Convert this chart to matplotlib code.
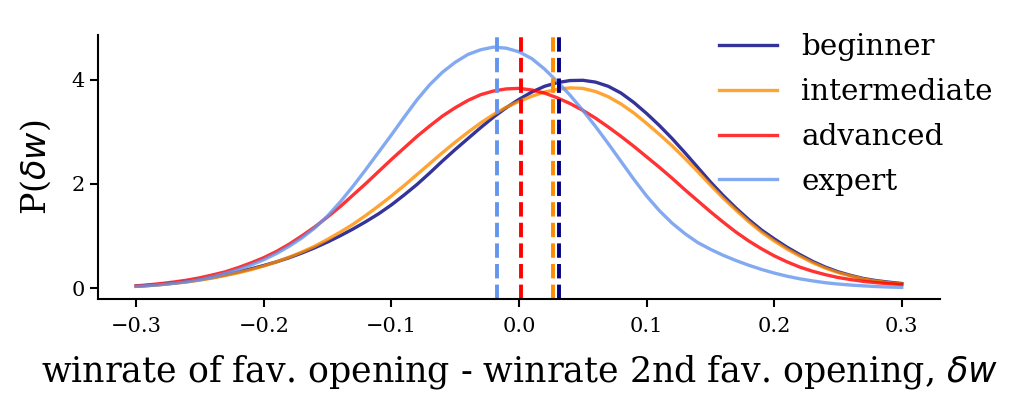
"""
Distribution of the winrate gap between favourite and 2nd favourite opening
"""
import matplotlib
matplotlib.use('Agg')
import matplotlib.pyplot as plt

# values (x step 0.01)
dw = [round(-0.30 + 0.01 * i, 2) for i in range(61)]

p_beginner = [0.045, 0.06, 0.08, 0.105, 0.135, 0.17, 0.21, 0.26, 0.315, 0.375,
              0.44, 0.51, 0.59, 0.68, 0.78, 0.89, 1.01, 1.14, 1.28, 1.43,
              1.60, 1.79, 1.99, 2.21, 2.44, 2.66, 2.87, 3.08, 3.28, 3.46,
              3.62, 3.76, 3.87, 3.94, 3.98, 3.985, 3.95, 3.87, 3.74, 3.56,
              3.35, 3.12, 2.87, 2.60, 2.32, 2.04, 1.78, 1.54, 1.32, 1.12,
              0.95, 0.79, 0.65, 0.52, 0.41, 0.32, 0.25, 0.19, 0.15, 0.12, 0.095]
p_intermediate = [0.04, 0.055, 0.075, 0.10, 0.125, 0.16, 0.20, 0.25, 0.30, 0.36,
                  0.43, 0.51, 0.60, 0.70, 0.81, 0.94, 1.08, 1.23, 1.40, 1.58,
                  1.77, 1.97, 2.18, 2.39, 2.60, 2.80, 2.99, 3.17, 3.33, 3.47,
                  3.58, 3.68, 3.76, 3.81, 3.84, 3.83, 3.77, 3.67, 3.53, 3.36,
                  3.16, 2.95, 2.73, 2.49, 2.24, 1.98, 1.73, 1.50, 1.28, 1.08,
                  0.91, 0.755, 0.62, 0.495, 0.39, 0.305, 0.24, 0.18, 0.14, 0.11, 0.085]
p_advanced = [0.05, 0.07, 0.095, 0.125, 0.16, 0.205, 0.26, 0.32, 0.40, 0.49,
              0.59, 0.71, 0.85, 1.01, 1.18, 1.37, 1.57, 1.79, 2.01, 2.24,
              2.47, 2.69, 2.91, 3.11, 3.30, 3.46, 3.60, 3.71, 3.78, 3.82,
              3.83, 3.80, 3.74, 3.65, 3.54, 3.41, 3.26, 3.09, 2.91, 2.72,
              2.52, 2.32, 2.11, 1.89, 1.68, 1.47, 1.27, 1.08, 0.91, 0.76,
              0.625, 0.51, 0.41, 0.33, 0.265, 0.21, 0.17, 0.135, 0.11, 0.09, 0.075]
p_expert = [0.04, 0.055, 0.075, 0.10, 0.13, 0.17, 0.22, 0.29, 0.36, 0.45,
            0.55, 0.67, 0.81, 0.97, 1.16, 1.39, 1.66, 1.96, 2.28, 2.61,
            2.94, 3.28, 3.61, 3.90, 4.14, 4.33, 4.48, 4.57, 4.62, 4.60,
            4.53, 4.40, 4.20, 3.96, 3.70, 3.41, 3.10, 2.77, 2.43, 2.09,
            1.77, 1.49, 1.25, 1.05, 0.88, 0.75, 0.635, 0.535, 0.445, 0.365,
            0.295, 0.235, 0.185, 0.145, 0.11, 0.085, 0.065, 0.05, 0.037, 0.027, 0.02]

levels = ['beginner', 'intermediate', 'advanced', 'expert']
means = [0.031, 0.027, 0.0015, -0.0175]
colors = ['navy', 'darkorange', 'red', 'cornflowerblue']
curves = [p_beginner, p_intermediate, p_advanced, p_expert]

plt.rcParams['font.family'] = 'serif'
plt.rcParams['font.serif'] = ['DejaVu Serif']

fig = plt.figure(figsize=(10.24, 4.13), dpi=100)
ax = fig.add_axes([0.0957, 0.275, 0.8223, 0.64])

for name, p, c in zip(levels, curves, colors):
    ax.plot(dw, p, color=c, alpha=0.8, lw=2.4, label=name)
for m, c in zip(means, colors):
    ax.axvline(m, color=c, ls='--', lw=2.8)

ax.set_xticks([-0.3, -0.2, -0.1, 0.0, 0.1, 0.2, 0.3])
ax.set_yticks([0, 2, 4])
ax.tick_params(labelsize=15, length=6, width=1.5)
ax.tick_params(axis='x', pad=7)
for s in ['top', 'right']:
    ax.spines[s].set_visible(False)
for s in ['left', 'bottom']:
    ax.spines[s].set_linewidth(1.5)

ax.set_xlabel(r'winrate of fav. opening - winrate 2nd fav. opening, $\delta w$',
              fontsize=25, labelpad=12)
ax.set_ylabel(r'P($\delta w$)', fontsize=24, labelpad=13)

ax.legend(loc='upper left', bbox_to_anchor=(0.723, 1.051), frameon=False,
          fontsize=21.2, labelspacing=0.57, borderaxespad=0)

fig.savefig('out.png', dpi=100)
plt.close()
